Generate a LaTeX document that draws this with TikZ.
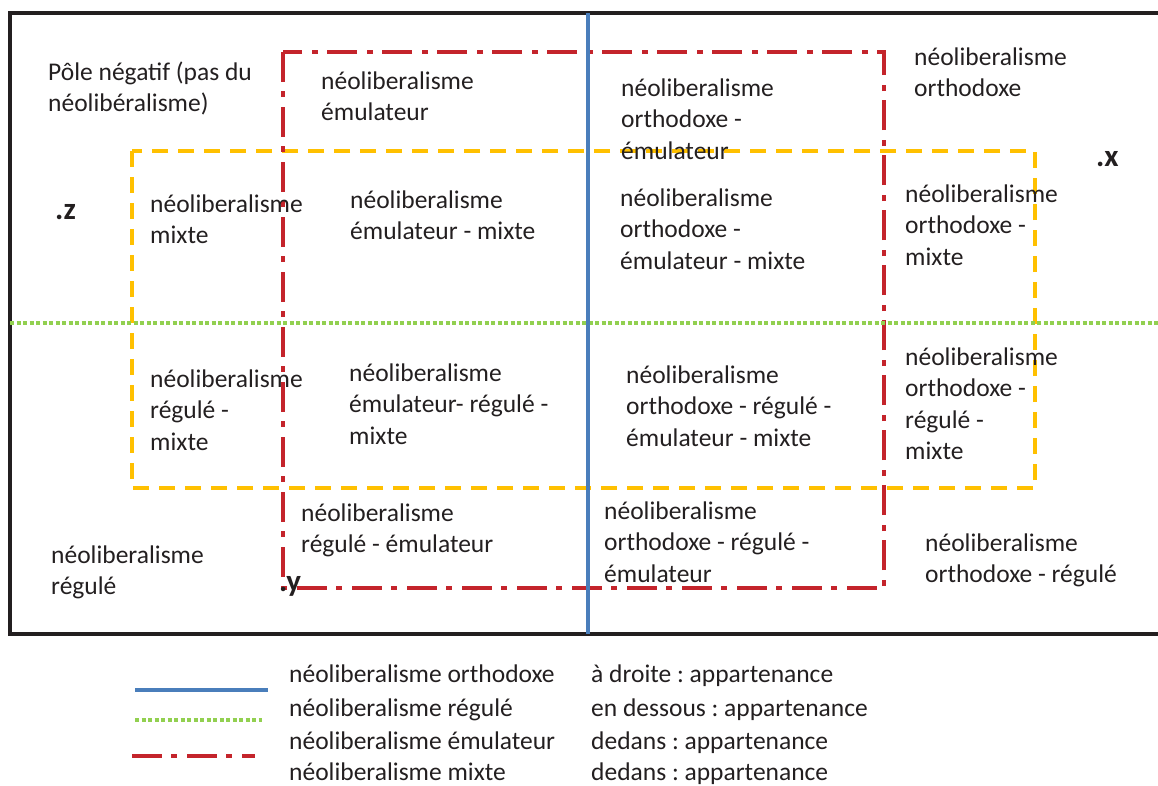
\documentclass[tikz,border=0pt]{standalone}
\usepackage{fontspec}
\setmainfont{Carlito}
\frenchspacing
\definecolor{blueln}{HTML}{4A7EBB}
\definecolor{greenln}{HTML}{92D050}
\definecolor{orangeln}{HTML}{FFC000}
\definecolor{redln}{HTML}{C4242B}
\definecolor{txt}{HTML}{231F20}
\begin{document}
\begin{tikzpicture}[x=1pt,y=-1pt,
  lbl/.style={anchor=base west, inner sep=0pt, align=left, text=txt,
    font=\fontsize{25.5}{31.5}\selectfont},
  leg/.style={anchor=base west, inner sep=0pt, text=txt,
    font=\fontsize{25.5}{31.5}\selectfont},
  ptlbl/.style={anchor=base west, inner sep=0pt, text=txt,
    font=\fontsize{31}{34}\selectfont\bfseries},
  frame/.style={draw=txt, line width=4pt},
  ortholine/.style={draw=blueln, line width=3.5pt},
  regline/.style={draw=greenln, line width=3.5pt, dash pattern=on 4pt off 2.5pt},
  emulline/.style={draw=redln, line width=4.5pt, dash pattern=on 30pt off 9pt on 6pt off 10pt},
  mixline/.style={draw=orangeln, line width=4pt, dash pattern=on 16pt off 10pt}]
\useasboundingbox (0,0) rectangle (1158,785);
% outer frame
\draw[frame] (1165,13) -- (10,13) -- (10,634) -- (1165,634);
% mixte (orange dashed)
\draw[mixline] (132,151) rectangle (1035,488);
% emulateur (red dash-dot)
\draw[emulline] (283,52) rectangle (884,588);
% regule (green dotted)
\draw[regline] (10,323) -- (1165,323);
% orthodoxe (blue)
\draw[ortholine] (588,13) -- (588,634);

% region labels (anchor = baseline of the last line)
\node[lbl] (pole) at (48,111.5) {Pôle négatif (pas du\\néolibéralisme)};
\node[lbl] (emul) at (321,120.5) {néoliberalisme\\émulateur};
\node[lbl] (orthemul) at (621,159) {néoliberalisme\\orthodoxe -\\émulateur};
\node[lbl] (orth) at (914,96.5) {néoliberalisme\\orthodoxe};
\node[lbl] (mix) at (150,243.5) {néoliberalisme\\mixte};
\node[lbl] (emulmix) at (350,239.5) {néoliberalisme\\émulateur - mixte};
\node[lbl] (orthemulmix) at (620,269) {néoliberalisme\\orthodoxe -\\émulateur - mixte};
\node[lbl] (orthmix) at (905,265) {néoliberalisme\\orthodoxe -\\mixte};
\node[lbl] (regmix) at (150,450) {néoliberalisme\\régulé -\\mixte};
\node[lbl] (emulregmix) at (349,444) {néoliberalisme\\émulateur- régulé -\\mixte};
\node[lbl] (orthregemulmix) at (626,446) {néoliberalisme\\orthodoxe - régulé -\\émulateur - mixte};
\node[lbl] (orthregmix) at (905,459.5) {néoliberalisme\\orthodoxe -\\régulé -\\mixte};
\node[lbl] (regemul) at (301,552.5) {néoliberalisme\\régulé - émulateur};
\node[lbl] (orthregemul) at (604,582) {néoliberalisme\\orthodoxe - régulé -\\émulateur};
\node[lbl] (reg) at (51,594.5) {néoliberalisme\\régulé};
\node[lbl] (orthreg) at (925,582.5) {néoliberalisme\\orthodoxe - régulé};

% points
\node[ptlbl] (px) at (1096,166) {.x};
\node[ptlbl] (pz) at (55,219) {.z};
\node[ptlbl] (py) at (279,591) {.y};

% legend
\coordinate (lbA) at (135,690); \coordinate (lbB) at (268,690);
\coordinate (lgA) at (135,720); \coordinate (lgB) at (262,720);
\coordinate (lrA) at (132,756); \coordinate (lrB) at (255,756);
\draw[ortholine] (lbA) -- (lbB);
\draw[regline] (lgA) -- (lgB);
\draw[emulline] (lrA) -- (lrB);
\node[leg] (l1a) at (289,682) {néoliberalisme orthodoxe};
\node[leg] (l2a) at (289,716) {néoliberalisme régulé};
\node[leg] (l3a) at (289,749) {néoliberalisme émulateur};
\node[leg] (l4a) at (289,780) {néoliberalisme mixte};
\node[leg] (l1b) at (591,682) {à droite : appartenance};
\node[leg] (l2b) at (591,716) {en dessous : appartenance};
\node[leg] (l3b) at (591,749) {dedans : appartenance};
\node[leg] (l4b) at (591,780) {dedans : appartenance};
\end{tikzpicture}
\end{document}
